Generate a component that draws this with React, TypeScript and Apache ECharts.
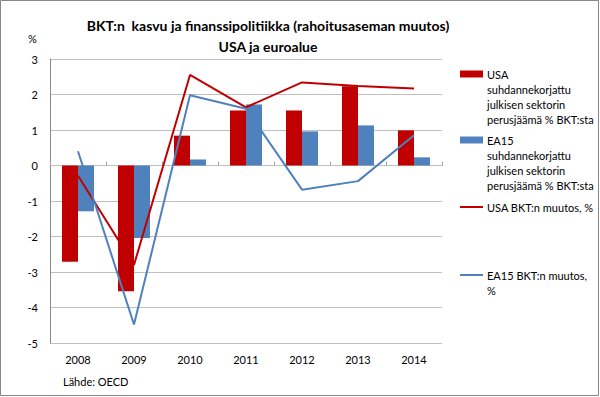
import React, { useEffect, useRef } from "react";
import * as echarts from "echarts";

const years = ["2008", "2009", "2010", "2011", "2012", "2013", "2014"];
const usaBalance = [-2.71, -3.54, 0.84, 1.55, 1.55, 2.23, 0.99];
const ea15Balance = [-1.29, -2.04, 0.17, 1.72, 0.96, 1.13, 0.23];
const usaGdp = [-0.29, -2.8, 2.55, 1.64, 2.34, 2.24, 2.17];
const ea15Gdp = [0.4, -4.48, 1.98, 1.6, -0.68, -0.44, 0.85];
const yTicks = [-5, -4, -3, -2, -1, 0, 1, 2, 3];

const legendLabels = [
  "USA\nsuhdannekorjattu\njulkisen sektorin\nperusjäämä % BKT:sta",
  "EA15\nsuhdannekorjattu\njulkisen sektorin\nperusjäämä % BKT:sta",
  "USA BKT:n muutos, %",
  "EA15 BKT:n muutos,\n%",
];
const seriesNames = [
  "USA suhdannekorjattu julkisen sektorin perusjäämä % BKT:sta",
  "EA15 suhdannekorjattu julkisen sektorin perusjäämä % BKT:sta",
  "USA BKT:n muutos, %",
  "EA15 BKT:n muutos, %",
];

const RED = "#C00000";
const BLUE = "#4F81BD";
const FONT = "Lato, 'Open Sans', sans-serif";

export default function App() {
  const ref = useRef<HTMLDivElement>(null);
  useEffect(() => {
    document.body.style.margin = "0";
    const chart = echarts.init(ref.current!, null, { renderer: "svg" });

    const legendItems: any[] = [];
    const legendY = [74, 140, 207, 275];
    const legendColors = [RED, BLUE, RED, BLUE];
    legendLabels.forEach((label, i) => {
      const y = legendY[i];
      const isLine = i >= 2;
      legendItems.push({
        type: "rect",
        shape: { x: 460, y: isLine ? y - 1 : y - 3.5, width: 23, height: isLine ? 2 : 7 },
        style: { fill: legendColors[i] },
        silent: true,
      });
      legendItems.push({
        type: "text",
        x: 487,
        y: y - 7.5,
        style: {
          text: label,
          fontFamily: FONT,
          fontSize: 11,
          lineHeight: 15,
          fill: "#000",
          verticalAlign: "top",
        },
        silent: true,
      });
    });

    chart.setOption({
      animation: false,
      textStyle: { fontFamily: FONT },
      title: {
        text: "BKT:n  kasvu ja finanssipolitiikka (rahoitusaseman muutos)\nUSA ja euroalue",
        left: 263,
        textAlign: "center",
        top: 10,
        textStyle: { fontFamily: FONT, fontSize: 14, fontWeight: "bold", color: "#000", lineHeight: 21 },
      },
      grid: { left: 50, right: 158, top: 59, bottom: 54 },
      xAxis: [
        {
          type: "category",
          data: years,
          position: "bottom",
          axisLine: { onZero: true, lineStyle: { color: "#BFBFBF", width: 1 } },
          axisTick: { show: true, inside: true, length: 4, lineStyle: { color: "#A6A6A6" } },
          axisLabel: { show: false },
          z: 1,
        },
        {
          type: "category",
          data: years,
          position: "bottom",
          axisLine: { show: false },
          axisTick: { show: false },
          axisLabel: { fontFamily: FONT, fontSize: 11, color: "#000", margin: 11 },
        },
      ],
      yAxis: {
        type: "value",
        min: -5,
        max: 3,
        interval: 1,
        axisLine: { show: true, lineStyle: { color: "#888" } },
        axisTick: { show: false },
        splitLine: { lineStyle: { color: "#BFBFBF" } },
        axisLabel: {
          fontFamily: FONT,
          fontSize: 11,
          color: "#000",
          margin: 12,
          formatter: (v: number) => (yTicks.includes(v) ? String(v) : ""),
        },
      },
      series: [
        {
          name: seriesNames[0],
          type: "bar",
          data: usaBalance,
          barWidth: 16,
          barGap: "0%",
          itemStyle: { color: RED },
          z: 2,
        },
        {
          name: seriesNames[1],
          type: "bar",
          data: ea15Balance,
          barWidth: 16,
          barGap: "0%",
          itemStyle: { color: BLUE },
          z: 2,
        },
        {
          name: seriesNames[2],
          type: "line",
          data: usaGdp,
          symbol: "none",
          lineStyle: { color: RED, width: 2 },
          itemStyle: { color: RED },
          z: 3,
        },
        {
          name: seriesNames[3],
          type: "line",
          data: ea15Gdp,
          symbol: "none",
          lineStyle: { color: BLUE, width: 2 },
          itemStyle: { color: BLUE },
          z: 3,
        },
      ],
      graphic: [
        {
          type: "rect",
          shape: { x: 0.5, y: 0.5, width: 598, height: 395 },
          style: { fill: "none", stroke: "#888", lineWidth: 1 },
          silent: true,
        },
        {
          type: "text",
          left: 28,
          top: 33,
          style: { text: "%", fontFamily: FONT, fontSize: 11, fill: "#000" },
        },
        {
          type: "text",
          left: 63,
          top: 376,
          style: { text: "Lähde: OECD", fontFamily: FONT, fontSize: 11, fill: "#000" },
        },
        ...legendItems,
      ],
    });
    return () => chart.dispose();
  }, []);
  return <div ref={ref} style={{ width: 600, height: 397 }} />;
}
